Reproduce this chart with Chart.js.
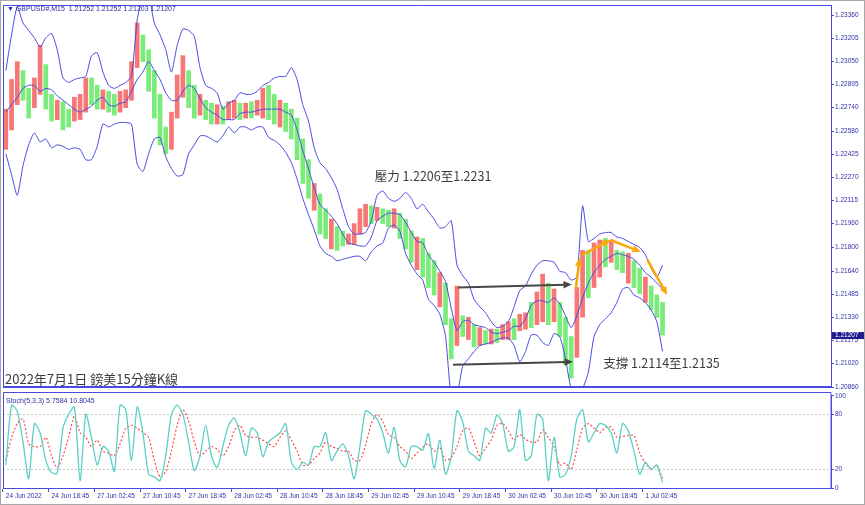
<!DOCTYPE html>
<html>
<head>
<meta charset="utf-8">
<title>GBPUSD M15</title>
<script src="https://cdn.jsdelivr.net/npm/chart.js@4.4.1/dist/chart.umd.min.js"></script>
<style>
  html, body { margin: 0; padding: 0; background: #fff; }
  #wrap { position: relative; width: 865px; height: 505px; overflow: hidden; background: #fff; }
  #main { position: absolute; left: 0; top: 0; }
  #stoch { position: absolute; left: 0; top: 391px; }
  #edge { position: absolute; left: 0; top: 0; width: 865px; height: 505px; box-sizing: border-box; border: 1px solid #a8a8a8; pointer-events: none; }
</style>
</head>
<body>
<div id="wrap">
  <canvas id="main" width="865" height="392"></canvas>
  <canvas id="stoch" width="865" height="114"></canvas>
  <div id="edge"></div>
</div>
<script>
// time axis, one slot = 1 hour (4 bars of M15)
var timeTicks = ['24 Jun 2022', '24 Jun 18:45', '27 Jun 02:45', '27 Jun 10:45', '27 Jun 18:45',
  '28 Jun 02:45', '28 Jun 10:45', '28 Jun 18:45', '29 Jun 02:45', '29 Jun 10:45',
  '29 Jun 18:45', '30 Jun 02:45', '30 Jun 10:45', '30 Jun 18:45', '1 Jul 02:45'];
var slotCount = 145;

var priceTicks = [1.23360, 1.23205, 1.23050, 1.22895, 1.22740, 1.22580, 1.22425, 1.22270, 1.22115,
  1.21960, 1.21800, 1.21640, 1.21485, 1.21330, 1.21175, 1.21020, 1.20860];
var stochTicks = [0, 20, 80, 100];
var lastPrice = 1.21207;

var openPrice = [1.2246, 1.2259, 1.2276, 1.2299, 1.2287, 1.2274, 1.2283, 1.2303, 1.2283, 1.2266,
  1.2278, 1.2273, 1.2265, 1.2266, 1.2271, 1.2294, 1.2289, 1.2273, 1.2285, 1.2283,
  1.2271, 1.2274, 1.2279, 1.2301, 1.2323, 1.2313, 1.2299, 1.2283, 1.2261, 1.2246,
  1.2267, 1.2281, 1.2299, 1.2289, 1.2269, 1.2279, 1.2277, 1.2263, 1.2275, 1.2266,
  1.2267, 1.2277, 1.2267, 1.2278, 1.2269, 1.2267, 1.2289, 1.2283, 1.2261, 1.2277,
  1.2273, 1.2267, 1.2253, 1.2239, 1.2205, 1.2216, 1.2206, 1.2179, 1.2194, 1.2191,
  1.2182, 1.2182, 1.2189, 1.2194, 1.2208, 1.2198, 1.2206, 1.2205, 1.2193, 1.2203,
  1.2199, 1.2191, 1.2165, 1.2186, 1.2176, 1.2171, 1.2140, 1.2156, 1.2132, 1.2114,
  1.2134, 1.2118, 1.2128, 1.2114, 1.2124, 1.2115, 1.2125, 1.2118, 1.2118, 1.2132,
  1.2124, 1.2125, 1.2143, 1.2128, 1.2130, 1.2156, 1.2130, 1.2143, 1.2133, 1.2120,
  1.2106, 1.2133, 1.2178, 1.2153, 1.2160, 1.2186, 1.2170, 1.2178, 1.2177, 1.2156,
  1.2171, 1.2166, 1.2143, 1.2154, 1.2148, 1.2143];
var closePrice = [1.2273, 1.2293, 1.2305, 1.2279, 1.2267, 1.2294, 1.2316, 1.2273, 1.2265, 1.2279,
  1.2259, 1.2261, 1.2281, 1.2283, 1.2294, 1.2276, 1.2273, 1.2286, 1.2271, 1.2269,
  1.2285, 1.2286, 1.2305, 1.2331, 1.2305, 1.2285, 1.2267, 1.2249, 1.2243, 1.2271,
  1.2296, 1.2309, 1.2274, 1.2267, 1.2283, 1.2266, 1.2263, 1.2276, 1.2263, 1.2278,
  1.2279, 1.2266, 1.2277, 1.2267, 1.2279, 1.2287, 1.2266, 1.2263, 1.2279, 1.2258,
  1.2253, 1.2239, 1.2223, 1.2213, 1.2223, 1.2189, 1.2186, 1.2199, 1.2178, 1.2181,
  1.2189, 1.2196, 1.2206, 1.2209, 1.2196, 1.2207, 1.2196, 1.2194, 1.2206, 1.2186,
  1.2179, 1.2170, 1.2187, 1.2160, 1.2153, 1.2148, 1.2163, 1.2128, 1.2105, 1.2154,
  1.2120, 1.2133, 1.2113, 1.2126, 1.2115, 1.2125, 1.2116, 1.2128, 1.2130, 1.2118,
  1.2135, 1.2136, 1.2126, 1.2150, 1.2162, 1.2128, 1.2152, 1.2120, 1.2101, 1.2092,
  1.2153, 1.2178, 1.2146, 1.2183, 1.2185, 1.2167, 1.2185, 1.2165, 1.2163, 1.2176,
  1.2153, 1.2149, 1.2160, 1.2138, 1.2133, 1.2121];

var bandUpper = [1.2299, 1.2323, 1.2342, 1.2331, 1.2326, 1.2321, 1.2315, 1.2321, 1.2324, 1.2313,
  1.2294, 1.2291, 1.2293, 1.2294, 1.2295, 1.2309, 1.2311, 1.2298, 1.2289, 1.2287,
  1.2289, 1.2291, 1.2295, 1.2333, 1.2349, 1.2349, 1.2331, 1.2323, 1.2313, 1.2298,
  1.2316, 1.2327, 1.2326, 1.2322, 1.2301, 1.2289, 1.2287, 1.2284, 1.2273, 1.2277,
  1.2279, 1.2284, 1.2283, 1.2283, 1.2285, 1.2289, 1.2291, 1.2294, 1.2295, 1.2295,
  1.2301, 1.2293, 1.2276, 1.2265, 1.2247, 1.2237, 1.2233, 1.2227, 1.2219, 1.2206,
  1.2194, 1.2189, 1.2189, 1.2190, 1.2198, 1.2215, 1.2218, 1.2213, 1.2211, 1.2213,
  1.2217, 1.2213, 1.2206, 1.2209, 1.2204, 1.2199, 1.2193, 1.2194, 1.2198, 1.2168,
  1.2161, 1.2156, 1.2145, 1.2140, 1.2136, 1.2130, 1.2126, 1.2127, 1.2130, 1.2140,
  1.2151, 1.2154, 1.2162, 1.2168, 1.2171, 1.2171, 1.2170, 1.2164, 1.2163, 1.2158,
  1.2160, 1.2208, 1.2184, 1.2186, 1.2189, 1.2190, 1.2190, 1.2187, 1.2186, 1.2184,
  1.2182, 1.2180, 1.2175, 1.2166, 1.2160, 1.2168];
var bandMiddle = [1.2271, 1.2276, 1.2281, 1.2287, 1.2289, 1.2289, 1.2285, 1.2287, 1.2286, 1.2282,
  1.2279, 1.2276, 1.2273, 1.2271, 1.2273, 1.2275, 1.2279, 1.2281, 1.2276, 1.2275,
  1.2277, 1.2278, 1.2285, 1.2293, 1.2298, 1.2305, 1.2299, 1.2293, 1.2284, 1.2279,
  1.2279, 1.2285, 1.2289, 1.2287, 1.2280, 1.2274, 1.2271, 1.2269, 1.2266, 1.2266,
  1.2266, 1.2270, 1.2271, 1.2271, 1.2272, 1.2273, 1.2273, 1.2273, 1.2273, 1.2271,
  1.2269, 1.2259, 1.2245, 1.2233, 1.2220, 1.2209, 1.2205, 1.2201, 1.2196, 1.2189,
  1.2183, 1.2182, 1.2181, 1.2181, 1.2187, 1.2198, 1.2201, 1.2203, 1.2203, 1.2202,
  1.2197, 1.2190, 1.2184, 1.2183, 1.2175, 1.2170, 1.2164, 1.2157, 1.2139, 1.2124,
  1.2130, 1.2131, 1.2128, 1.2127, 1.2126, 1.2123, 1.2122, 1.2123, 1.2124, 1.2127,
  1.2127, 1.2132, 1.2141, 1.2144, 1.2144, 1.2143, 1.2146, 1.2142, 1.2134, 1.2126,
  1.2134, 1.2146, 1.2156, 1.2163, 1.2168, 1.2172, 1.2174, 1.2176, 1.2175, 1.2174,
  1.2172, 1.2168, 1.2163, 1.2160, 1.2156, 1.2152];
var bandLower = [1.2243, 1.2229, 1.2215, 1.2235, 1.2249, 1.2257, 1.2251, 1.2253, 1.2247, 1.2249,
  1.2248, 1.2246, 1.2247, 1.2246, 1.2239, 1.2239, 1.2248, 1.2263, 1.2261, 1.2263,
  1.2264, 1.2264, 1.2263, 1.2236, 1.2231, 1.2243, 1.2253, 1.2254, 1.2241, 1.2233,
  1.2228, 1.2229, 1.2243, 1.2249, 1.2255, 1.2255, 1.2253, 1.2251, 1.2255, 1.2261,
  1.2257, 1.2261, 1.2261, 1.2259, 1.2261, 1.2261, 1.2254, 1.2252, 1.2249, 1.2244,
  1.2237, 1.2226, 1.2213, 1.2202, 1.2192, 1.2181, 1.2176, 1.2174, 1.2171, 1.2172,
  1.2173, 1.2174, 1.2174, 1.2171, 1.2177, 1.2181, 1.2183, 1.2193, 1.2195, 1.2191,
  1.2176, 1.2168, 1.2162, 1.2158, 1.2145, 1.2141, 1.2135, 1.2120, 1.2080, 1.2081,
  1.2100, 1.2105, 1.2110, 1.2114, 1.2115, 1.2116, 1.2118, 1.2119, 1.2119, 1.2114,
  1.2103, 1.2110, 1.2121, 1.2121, 1.2116, 1.2114, 1.2122, 1.2120, 1.2105, 1.2085,
  1.2081, 1.2085, 1.2096, 1.2120, 1.2128, 1.2132, 1.2136, 1.2143, 1.2152, 1.2153,
  1.2148, 1.2146, 1.2143, 1.2138, 1.2130, 1.2110];

var stochMain = [25, 90, 83, 50, 10, 70, 60, 30, 17, 16,
  65, 80, 88, 8, 80, 55, 25, 45, 40, 18,
  90, 85, 30, 88, 60, 15, 12, 8, 35, 80,
  90, 80, 50, 19, 35, 68, 35, 22, 45, 68,
  76, 60, 35, 65, 60, 34, 50, 55, 60, 70,
  28, 20, 28, 25, 45, 45, 60, 30, 40, 48,
  35, 10, 45, 84, 80, 75, 60, 38, 66, 30,
  23, 45, 45, 41, 59, 21, 52, 15, 34, 84,
  72, 40, 35, 30, 65, 60, 79, 70, 40, 45,
  85, 30, 35, 80, 75, 8, 55, 12, 15, 35,
  75, 85, 50, 60, 70, 68, 60, 38, 70, 62,
  40, 15, 28, 20, 25, 5.76];
var stochSignal = [30, 55, 70, 75, 48, 45, 45, 55, 35, 22,
  35, 55, 78, 60, 55, 45, 52, 40, 38, 35,
  48, 65, 68, 65, 60, 55, 30, 12, 18, 40,
  68, 85, 73, 50, 35, 40, 45, 42, 35, 45,
  62, 68, 57, 55, 55, 52, 48, 45, 55, 62,
  52, 40, 25, 25, 32, 38, 50, 45, 43, 40,
  40, 30, 30, 47, 70, 80, 72, 58, 55, 45,
  40, 32, 38, 44, 48, 40, 44, 30, 33, 45,
  62, 65, 50, 35, 43, 52, 68, 70, 62, 52,
  58, 53, 50, 50, 63, 55, 45, 25, 27, 20,
  42, 65, 70, 65, 60, 66, 66, 55, 56, 57,
  57, 38, 27, 21, 24, 10.8];

// annotations: [slot, price] anchors
var resistText = '壓力 1.2206至1.2231';
var resistAt = [64.6, 1.2228];
var supportText = '支撐 1.2114至1.2135';
var supportAt = [104.6, 1.2102];
var captionText = '2022年7月1日 鎊美15分鐘K線';
var grayArrows = [[79.2, 1.2153, 99.1, 1.2155], [78.3, 1.2101, 99.3, 1.2103]];
var orangeArrows = [[99.8, 1.2152, 100.5, 1.2173], [100.9, 1.2175, 105.9, 1.2185],
  [105.9, 1.2185, 111.2, 1.2177], [112.3, 1.2172, 115.8, 1.2148]];

var frameBlue = '#4a4ae0';
var tickText = '#3030a8';
var candleRed = '#f77676';
var candleGreen = '#79ec79';

Chart.defaults.font.family = '"Liberation Sans", "DejaVu Sans", sans-serif';

var slots = [];
for (var i = 0; i < slotCount; i++) {
  slots.push(i % 8 === 0 && timeTicks[i / 8] ? timeTicks[i / 8] : '');
}
var candles = openPrice.map(function (o, i) { return [o, closePrice[i]]; });
var candleColors = openPrice.map(function (o, i) { return closePrice[i] >= o ? candleRed : candleGreen; });

function drawArrow(ctx, x1, y1, x2, y2, color, width, head) {
  var a = Math.atan2(y2 - y1, x2 - x1);
  ctx.save();
  ctx.strokeStyle = color;
  ctx.fillStyle = color;
  ctx.lineWidth = width;
  ctx.beginPath();
  ctx.moveTo(x1, y1);
  ctx.lineTo(x2 - Math.cos(a) * head * 0.7, y2 - Math.sin(a) * head * 0.7);
  ctx.stroke();
  ctx.beginPath();
  ctx.moveTo(x2, y2);
  ctx.lineTo(x2 - head * Math.cos(a - 0.42), y2 - head * Math.sin(a - 0.42));
  ctx.lineTo(x2 - head * Math.cos(a + 0.42), y2 - head * Math.sin(a + 0.42));
  ctx.closePath();
  ctx.fill();
  ctx.restore();
}

var mainFrame = {
  id: 'mainFrame',
  afterDraw: function (chart) {
    var ctx = chart.ctx, a = chart.chartArea;
    var xs = chart.scales.x, ys = chart.scales.y;
    ctx.save();
    ctx.strokeStyle = frameBlue;
    ctx.lineWidth = 1;
    ctx.beginPath();
    ctx.moveTo(a.left + 0.5, a.bottom);
    ctx.lineTo(a.left + 0.5, a.top + 0.5);
    ctx.lineTo(a.right, a.top + 0.5);
    ctx.stroke();
    ctx.lineWidth = 2;
    ctx.beginPath();
    ctx.moveTo(a.left, a.bottom);
    ctx.lineTo(a.right, a.bottom);
    ctx.stroke();

    grayArrows.forEach(function (r) {
      drawArrow(ctx, xs.getPixelForValue(r[0]), ys.getPixelForValue(r[1]),
        xs.getPixelForValue(r[2]), ys.getPixelForValue(r[3]), '#474747', 2, 9);
    });
    orangeArrows.forEach(function (r) {
      drawArrow(ctx, xs.getPixelForValue(r[0]), ys.getPixelForValue(r[1]),
        xs.getPixelForValue(r[2]), ys.getPixelForValue(r[3]), '#f8a90a', 2.5, 9);
    });

    ctx.fillStyle = '#3c3c3c';
    ctx.textBaseline = 'middle';
    ctx.textAlign = 'left';
    ctx.font = '12.5px "Noto Sans CJK TC"';
    ctx.fillText(resistText, xs.getPixelForValue(resistAt[0]), ys.getPixelForValue(resistAt[1]));
    ctx.fillText(supportText, xs.getPixelForValue(supportAt[0]), ys.getPixelForValue(supportAt[1]));
    ctx.font = '13px "Noto Sans CJK TC"';
    ctx.fillText(captionText, a.left + 2, a.bottom - 8);

    ctx.fillStyle = '#2c2ca4';
    ctx.font = '7px "Liberation Sans", "DejaVu Sans"';
    ctx.fillText('\u25BC GBPUSD#,M15  1.21252 1.21252 1.21203 1.21207', a.left + 4, a.top + 4);

    var py = ys.getPixelForValue(lastPrice);
    ctx.fillStyle = '#1d1d8e';
    ctx.fillRect(a.right + 1, py - 3.5, 33, 7);
    ctx.fillStyle = '#ffffff';
    ctx.font = '6.5px "Liberation Sans"';
    ctx.fillText(lastPrice.toFixed(5), a.right + 4, py);
    ctx.restore();
  }
};

var stochFrame = {
  id: 'stochFrame',
  afterDraw: function (chart) {
    var ctx = chart.ctx, a = chart.chartArea;
    ctx.save();
    ctx.strokeStyle = frameBlue;
    ctx.lineWidth = 1;
    ctx.beginPath();
    ctx.moveTo(a.left + 0.5, a.bottom);
    ctx.lineTo(a.left + 0.5, 1.5);
    ctx.lineTo(a.right, 1.5);
    ctx.lineTo(a.right, a.bottom);
    ctx.stroke();
    ctx.fillStyle = '#2c2ca4';
    ctx.font = '7px "Liberation Sans"';
    ctx.textBaseline = 'middle';
    ctx.fillText('Stoch(5,3,3) 5.7584 10.8045', a.left + 3, 10);
    ctx.restore();
  }
};

new Chart(document.getElementById('main'), {
  type: 'bar',
  data: {
    labels: slots,
    datasets: [
      { type: 'line', data: bandUpper, borderColor: frameBlue, borderWidth: 1, pointRadius: 0, tension: 0.2, order: 1 },
      { type: 'line', data: bandMiddle, borderColor: frameBlue, borderWidth: 1, pointRadius: 0, tension: 0.2, order: 1 },
      { type: 'line', data: bandLower, borderColor: frameBlue, borderWidth: 1, pointRadius: 0, tension: 0.2, order: 1 },
      { type: 'bar', data: candles, backgroundColor: candleColors, barThickness: 4, order: 2 }
    ]
  },
  options: {
    responsive: false,
    animation: false,
    events: [],
    layout: { padding: { left: 3, top: 5, right: 0, bottom: 1 } },
    plugins: { legend: { display: false }, tooltip: { enabled: false } },
    scales: {
      x: { display: false, offset: true },
      y: {
        position: 'right',
        min: 1.20860,
        max: 1.23431,
        afterBuildTicks: function (scale) {
          scale.ticks = priceTicks.map(function (v) { return { value: v }; });
        },
        afterFit: function (scale) { scale.width = 34; },
        grid: { drawOnChartArea: false, drawTicks: true, tickLength: 3, color: frameBlue },
        border: { color: frameBlue },
        ticks: {
          autoSkip: false,
          padding: 1,
          color: tickText,
          font: { size: 6.5 },
          callback: function (v) { return Number(v).toFixed(5); }
        }
      }
    }
  },
  plugins: [mainFrame]
});

new Chart(document.getElementById('stoch'), {
  type: 'line',
  data: {
    labels: slots,
    datasets: [
      { data: stochMain, borderColor: '#5ccfc6', borderWidth: 1.3, pointRadius: 0, tension: 0.25 },
      { data: stochSignal, borderColor: '#ff4a4a', borderWidth: 1.2, borderDash: [2, 2], pointRadius: 0, tension: 0.25 }
    ]
  },
  options: {
    responsive: false,
    animation: false,
    events: [],
    layout: { padding: { left: 3, top: 4, right: 0, bottom: 0 } },
    plugins: { legend: { display: false }, tooltip: { enabled: false } },
    scales: {
      x: {
        offset: true,
        afterFit: function (scale) { scale.height = 17; },
        grid: {
          offset: true,
          drawOnChartArea: false,
          drawTicks: true,
          tickLength: 4,
          color: frameBlue,
          tickColor: function (ctx) {
            return (ctx.index % 8 === 0 && ctx.index <= 112) ? frameBlue : 'rgba(0,0,0,0)';
          }
        },
        border: { color: frameBlue },
        ticks: {
          autoSkip: false,
          maxRotation: 0,
          minRotation: 0,
          align: 'start',
          padding: 0,
          color: tickText,
          font: { size: 6.5 }
        }
      },
      y: {
        position: 'right',
        min: 0,
        max: 100,
        afterBuildTicks: function (scale) {
          scale.ticks = stochTicks.map(function (v) { return { value: v }; });
        },
        afterFit: function (scale) { scale.width = 34; },
        grid: {
          drawTicks: true,
          tickLength: 3,
          tickColor: frameBlue,
          color: function (ctx) {
            return ctx.tick && (ctx.tick.value === 20 || ctx.tick.value === 80) ? '#c6c6c6' : 'rgba(0,0,0,0)';
          }
        },
        border: { color: frameBlue, dash: [2, 2] },
        ticks: { autoSkip: false, padding: 1, color: tickText, font: { size: 6.5 } }
      }
    }
  },
  plugins: [stochFrame]
});
</script>
</body>
</html>
